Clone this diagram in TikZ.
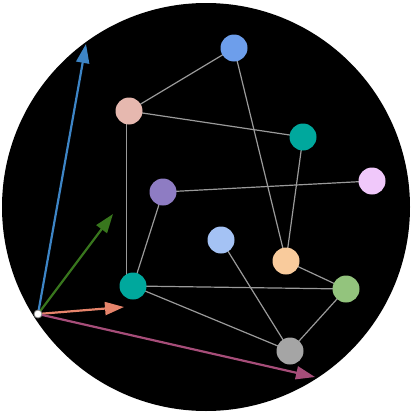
\documentclass[tikz,border=0pt]{standalone}
\usetikzlibrary{arrows.meta}
\definecolor{cblue}{HTML}{6D9EEB}
\definecolor{cpink}{HTML}{E6B8AF}
\definecolor{cteal}{HTML}{00A89D}
\definecolor{clilac}{HTML}{F0C8FA}
\definecolor{cpurple}{HTML}{8E7CC3}
\definecolor{clblue}{HTML}{A4C2F4}
\definecolor{cpeach}{HTML}{F9CB9C}
\definecolor{cgreen}{HTML}{93C47D}
\definecolor{cgray}{HTML}{A5A5A5}
\definecolor{ablue}{HTML}{3D85C6}
\definecolor{agreen}{HTML}{38761D}
\definecolor{asalmon}{HTML}{E6846B}
\definecolor{amag}{HTML}{A64D79}
\definecolor{edgegray}{HTML}{9A9A9A}
\tikzset{
  vert/.style={circle,minimum size=27pt,inner sep=0pt,draw=none},
  edge/.style={draw=edgegray,line width=1.2pt},
  vec/.style={line width=2.2pt,-{Triangle[length=19pt,width=13pt]}},
}
\begin{document}
\begin{tikzpicture}[x=1pt,y=-1pt]
\useasboundingbox (0,0) rectangle (413,415);
\fill[white] (0,0) rectangle (413,415);
\fill[black] (206,207) circle (204);
\coordinate (a) at (234,48);
\coordinate (b) at (129,111);
\coordinate (c) at (303,137);
\coordinate (d) at (372,181);
\coordinate (e) at (163,192);
\coordinate (f) at (221,240);
\coordinate (g) at (286,261);
\coordinate (h) at (133,286);
\coordinate (i) at (346,289);
\coordinate (j) at (290,351);
\draw[edge] (a) -- (b);
\draw[edge] (a) -- (g);
\draw[edge] (b) -- (c);
\draw[edge] ([xshift=-2.5pt]b) -- ([xshift=-6.5pt]h);
\draw[edge] (c) -- (g);
\draw[edge] (e) -- (d);
\draw[edge] (e) -- (h);
\draw[edge] (f) -- (j);
\draw[edge] (g) -- (i);
\draw[edge] (h) -- (i);
\draw[edge] (h) -- (j);
\draw[edge] (i) -- (j);
\node[vert,fill=cblue] (na) at (a) {};
\node[vert,fill=cpink] (nb) at (b) {};
\node[vert,fill=cteal] (nc) at (c) {};
\node[vert,fill=clilac] (nd) at (d) {};
\node[vert,fill=cpurple] (ne) at (e) {};
\node[vert,fill=clblue] (nf) at (f) {};
\node[vert,fill=cpeach] (ng) at (g) {};
\node[vert,fill=cteal] (nh) at (h) {};
\node[vert,fill=cgreen] (ni) at (i) {};
\node[vert,fill=cgray] (nj) at (j) {};
\coordinate (tb) at (86,44);
\coordinate (tg) at (113,214);
\coordinate (ts) at (124,307);
\coordinate (tm) at (315,377);
\coordinate (o) at (38,314);
\draw[vec,ablue] (o) -- (tb);
\draw[vec,agreen] (o) -- (tg);
\draw[vec,asalmon] (o) -- (ts);
\draw[vec,amag] (o) -- (tm);
\node[circle,minimum size=8pt,inner sep=0pt,fill=white,draw=gray,line width=0.8pt] (no) at (o) {};
\end{tikzpicture}
\end{document}
